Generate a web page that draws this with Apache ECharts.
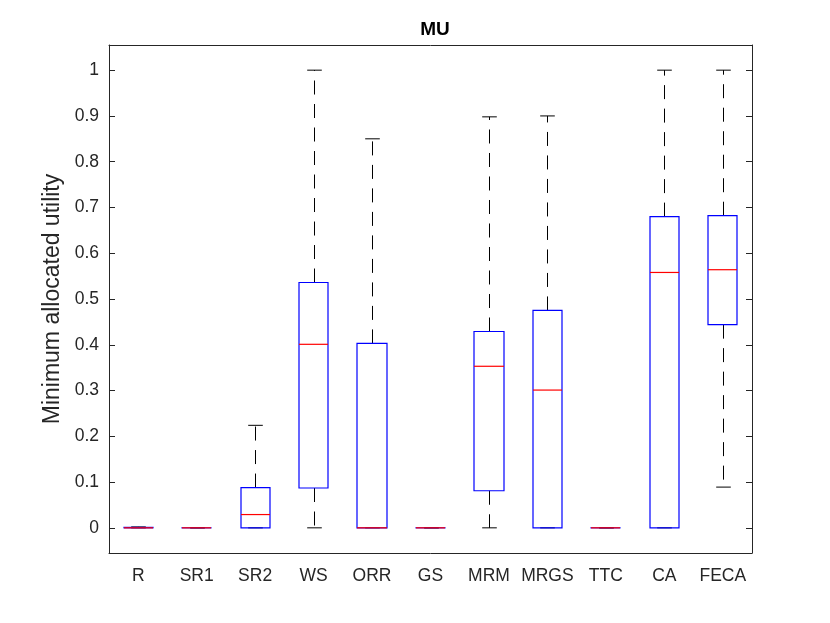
<!DOCTYPE html>
<html>
<head>
<meta charset="utf-8">
<script src="https://cdn.jsdelivr.net/npm/echarts@6/dist/echarts.min.js"></script>
<style>html,body{margin:0;padding:0;background:#fff}#c{width:830px;height:623px}</style>
</head>
<body>
<div id="c"></div>
<script>
const categories = ['R','SR1','SR2','WS','ORR','GS','MRM','MRGS','TTC','CA','FECA'];
const whiskerLow = [0, 0, 0, 0, 0, 0, 0, 0, 0, 0, 0.089];
const q1 =        [0, 0, 0, 0.087, 0, 0, 0.081, 0, 0, 0, 0.444];
const median =    [0, 0, 0.029, 0.401, 0, 0, 0.353, 0.301, 0, 0.558, 0.564];
const q3 =        [0.001, 0, 0.088, 0.536, 0.403, 0, 0.429, 0.475, 0, 0.680, 0.682];
const whiskerHigh=[0.002, 0, 0.224, 1.0, 0.85, 0, 0.898, 0.90, 0, 1.0, 1.0];
const yTicks = [0,0.1,0.2,0.3,0.4,0.5,0.6,0.7,0.8,0.9,1];

const data = categories.map((c,i)=>[i, whiskerLow[i], q1[i], median[i], q3[i], whiskerHigh[i]]);
const axisColor = '#262626';
const font = 'Liberation Sans, Arial, Helvetica, sans-serif';
const clear = 'rgba(255,255,255,0)';

function fmt(v){
  for (const t of yTicks) if (Math.abs(v-t)<1e-6) return String(t);
  return '';
}

function geom(api){
  const x = api.value(0);
  const lo = api.coord([x, api.value(1)]);
  const b1 = api.coord([x, api.value(2)]);
  const md = api.coord([x, api.value(3)]);
  const b3 = api.coord([x, api.value(4)]);
  const hi = api.coord([x, api.value(5)]);
  const bw = api.size([1,0])[0]*0.5;
  return {cx:lo[0], lo:lo[1], b1:b1[1], md:md[1], b3:b3[1], hi:hi[1], L:bw/2, C:bw/4};
}

function whiskers(params, api){
  const g = geom(api);
  const cx = Math.round(g.cx) + 0.5;
  const dash = {stroke:'#000000', fill:clear, lineWidth:1, lineDash:[14,9.5]};
  const solid = {stroke:'#000000', fill:clear, lineWidth:1};
  return {type:'group', children:[
    {type:'line', shape:{x1:cx,y1:g.b3,x2:cx,y2:g.hi}, style:dash},
    {type:'line', shape:{x1:cx,y1:g.b1,x2:cx,y2:g.lo}, style:dash},
    {type:'line', shape:{x1:cx-g.C,y1:g.hi,x2:cx+g.C,y2:g.hi}, style:solid},
    {type:'line', shape:{x1:cx-g.C,y1:g.lo,x2:cx+g.C,y2:g.lo}, style:solid}
  ]};
}
function boxes(params, api){
  const g = geom(api);
  const x0 = Math.round(g.cx - g.L), x1 = Math.round(g.cx + g.L);
  return {type:'rect', shape:{x:x0, y:g.b3, width:x1-x0, height:Math.max(g.b1-g.b3,0.01)},
    style:{stroke:'#0000ff', fill:clear, lineWidth:1.2}};
}
function medians(params, api){
  const g = geom(api);
  const x0 = Math.round(g.cx - g.L), x1 = Math.round(g.cx + g.L);
  return {type:'line', shape:{x1:x0,y1:g.md,x2:x1,y2:g.md}, style:{stroke:'#ff0000', fill:clear, lineWidth:1.2}};
}

const chart = echarts.init(document.getElementById('c'));
chart.setOption({
  animation:false,
  title:{text:'MU', left:430, top:15, textAlign:'center',
    textStyle:{fontFamily:font, fontSize:19, fontWeight:'bold', color:'#000'}},
  grid:{left:109, right:78, top:45, bottom:70},
  xAxis:[{
    type:'category', data:categories, position:'bottom', boundaryGap:true,
    axisLine:{onZero:false, lineStyle:{color:axisColor, width:1}},
    axisTick:{inside:true, alignWithLabel:true, length:6, lineStyle:{color:axisColor}},
    axisLabel:{fontFamily:font, fontSize:17.5, color:axisColor, margin:14, interval:0},
    splitLine:{show:false}
  },{
    type:'category', data:categories, position:'top', boundaryGap:true,
    axisLine:{onZero:false, lineStyle:{color:axisColor, width:1}},
    axisTick:{inside:true, alignWithLabel:true, length:6, lineStyle:{color:axisColor}},
    axisLabel:{show:false}, splitLine:{show:false}
  }],
  yAxis:[{
    type:'value', min:-0.055, max:1.055, splitNumber:10, position:'left',
    name:'Minimum allocated utility', nameLocation:'middle', nameGap:45, nameRotate:90,
    nameTextStyle:{fontFamily:font, fontSize:23, color:axisColor},
    axisLine:{show:true, onZero:false, lineStyle:{color:axisColor, width:1}},
    axisTick:{show:true, inside:true, length:6, lineStyle:{color:axisColor}},
    axisLabel:{fontFamily:font, fontSize:17.5, color:axisColor, margin:10, formatter:fmt, showMinLabel:true, showMaxLabel:true},
    splitLine:{show:false}
  },{
    type:'value', min:-0.055, max:1.055, splitNumber:10, position:'right',
    axisLine:{show:true, onZero:false, lineStyle:{color:axisColor, width:1}},
    axisTick:{show:true, inside:true, length:6, lineStyle:{color:axisColor}},
    axisLabel:{show:false}, splitLine:{show:false}
  }],
  series:[
    {type:'custom', name:'whiskers', xAxisIndex:0, yAxisIndex:0, data:data, renderItem:whiskers, z:2},
    {type:'custom', name:'boxes', xAxisIndex:0, yAxisIndex:0, data:data, renderItem:boxes, z:3},
    {type:'custom', name:'medians', xAxisIndex:0, yAxisIndex:0, data:data, renderItem:medians, z:4}
  ]
});
</script>
</body>
</html>
